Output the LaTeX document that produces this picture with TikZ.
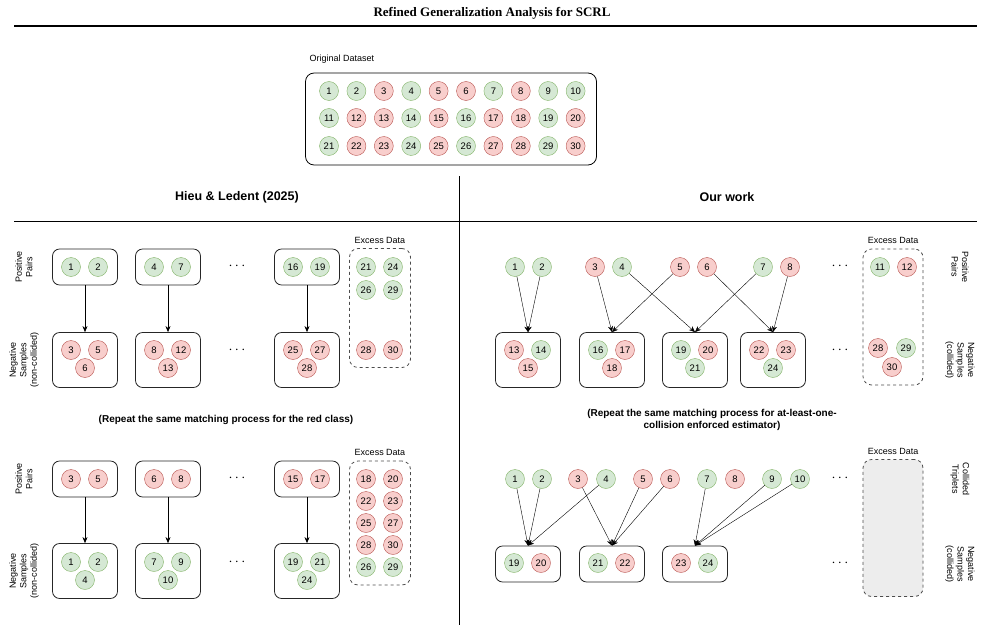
\documentclass[tikz,border=0pt]{standalone}
\usepackage{fontspec}
\setmainfont{Liberation Sans}
\newfontfamily\titlefont{Liberation Serif}
\usetikzlibrary{positioning,arrows.meta}
\definecolor{gfill}{HTML}{D5E8D4}\definecolor{gline}{HTML}{82B366}
\definecolor{rfill}{HTML}{F8CECC}\definecolor{rline}{HTML}{B85450}
\tikzset{
	g/.style={circle,minimum size=19pt,inner sep=0pt,fill=gfill,draw=gline,font=\fontsize{9.5}{10}\selectfont},
	r/.style={g,fill=rfill,draw=rline},
	bx/.style={draw=black!85,rounded corners=2.5mm,minimum width=65pt,thick},
	ex/.style={draw=black!70,dashed,rounded corners=3mm,minimum width=61pt,thick},
	lbl/.style={font=\fontsize{9}{10.5}\selectfont,align=center},
	head/.style={font=\bfseries\fontsize{12.5}{14}\selectfont},
	note/.style={font=\bfseries\fontsize{10}{12}\selectfont,align=center},
	dots/.style={font=\Large},
	arr/.style={-{Stealth[length=6pt,width=5pt]},thin}
}
\begin{document}
\begin{tikzpicture}[x=1pt,y=-1pt]
	\useasboundingbox (0,0) rectangle (985,634);
	% title and rules
	\node[font=\titlefont\bfseries\fontsize{13}{15}\selectfont] (T) at (492,13) {Refined Generalization Analysis for SCRL};
	\draw[line width=1.2pt] (14,26) -- (977,26);
	\draw (14,221) -- (977,221);
	\draw (459,176) -- (459,625);
	\node[head] (H1) at (237,197) {Hieu \& Ledent (2025)};
	\node[head] (H2) at (727,197) {Our work};
	% original dataset
	\node[lbl,anchor=west] (DL) at (306,59) {Original Dataset};
	\node[draw,thick,rounded corners=3mm,minimum width=291pt,minimum height=92pt] (D) at (451,119) {};
	\foreach \row/\y/\cols in {0/91/{g,g,r,g,r,r,g,r,g,g},1/118/{g,r,r,g,r,g,r,r,g,r},2/146/{g,r,r,g,r,g,r,r,g,r}}
		\foreach \c [count=\i] in \cols
			\node[\c] (d\i-\row) at ({329+27.4*(\i-1)},\y) {\the\numexpr\i+10*\row\relax};
	% left, green class
	\foreach \cx [count=\k] in {85,168,307}{
		\node[bx,minimum height=36pt] (LP\k) at (\cx,267) {};
		\node[bx,minimum height=55pt] (LN\k) at (\cx,360) {};
		\draw[arr] (LP\k) -- (LN\k);
	}
	\foreach \nm/\t/\c/\x/\y in {
		a1/1/g/71/267,a2/2/g/98/267,a3/4/g/154/267,a4/7/g/181/267,a5/16/g/293/267,a6/19/g/320/267,
		b1/3/r/71/350,b2/5/r/98/350,b3/6/r/85/368,b4/8/r/154/350,b5/12/r/181/350,b6/13/r/168/368,
		b7/25/r/293/350,b8/27/r/320/350,b9/28/r/307/368}
		\node[\c] (\nm) at (\x,\y) {\t};
	\node[ex,minimum height=119pt] (LE1) at (380,308) {};
	\node[lbl,above=1pt of LE1.north] {Excess Data};
	\foreach \nm/\t/\c/\x/\y in {e1/21/g/366/267,e2/24/g/393/267,e3/26/g/366/290,e4/29/g/393/290,e5/28/r/366/350,e6/30/r/393/350}
		\node[\c] (\nm) at (\x,\y) {\t};
	\node[dots] (LD1) at (237,266) {$\cdots$};
	\node[dots] (LD2) at (237,350) {$\cdots$};
	\node[lbl,rotate=90] (LL1) at (24,267) {Positive\\Pairs};
	\node[lbl,rotate=90] (LL2) at (24,360) {Negative\\Samples\\(non-collided)};
	\node[note] (N1) at (226,420) {(Repeat the same matching process for the red class)};
	% left, red class
	\foreach \cx [count=\k] in {85,168,307}{
		\node[bx,minimum height=36pt] (MP\k) at (\cx,479) {};
		\node[bx,minimum height=55pt] (MN\k) at (\cx,571) {};
		\draw[arr] (MP\k) -- (MN\k);
	}
	\foreach \nm/\t/\c/\x/\y in {
		c1/3/r/71/479,c2/5/r/98/479,c3/6/r/154/479,c4/8/r/181/479,c5/15/r/293/479,c6/17/r/320/479,
		f1/1/g/71/562,f2/2/g/98/562,f3/4/g/85/580,f4/7/g/154/562,f5/9/g/181/562,f6/10/g/168/580,
		f7/19/g/293/562,f8/21/g/320/562,f9/24/g/307/580}
		\node[\c] (\nm) at (\x,\y) {\t};
	\node[ex,minimum height=124pt] (LE2) at (380,523) {};
	\node[lbl,above=1pt of LE2.north] {Excess Data};
	\foreach \nm/\t/\c/\x/\y in {h1/18/r/366/479,h2/20/r/393/479,h3/22/r/366/501,h4/23/r/393/501,h5/25/r/366/523,
		h6/27/r/393/523,h7/28/r/366/545,h8/30/r/393/545,h9/26/g/366/567,h10/29/g/393/567}
		\node[\c] (\nm) at (\x,\y) {\t};
	\node[dots] (LD3) at (237,478) {$\cdots$};
	\node[dots] (LD4) at (237,562) {$\cdots$};
	\node[lbl,rotate=90] (LL3) at (24,479) {Positive\\Pairs};
	\node[lbl,rotate=90] (LL4) at (24,571) {Negative\\Samples\\(non-collided)};
	% right, top
	\foreach \cx [count=\k] in {528,612,695,773}
		\node[bx,minimum height=55pt] (RN\k) at (\cx,360) {};
	\foreach \nm/\t/\c/\x/\y in {
		p1/1/g/515/267,p2/2/g/542/267,p3/3/r/595/267,p4/4/g/622/267,p5/5/r/680/267,p6/6/r/707/267,p7/7/g/763/267,p8/8/r/790/267,
		q1/13/r/514/350,q2/14/g/541/350,q3/15/r/528/368,q4/16/g/598/350,q5/17/r/625/350,q6/18/r/612/368,
		q7/19/g/681/350,q8/20/r/708/350,q9/21/g/695/368,q10/22/r/759/350,q11/23/r/786/350,q12/24/g/773/368}
		\node[\c] (\nm) at (\x,\y) {\t};
	\foreach \a/\b in {p1/RN1,p2/RN1,p3/RN2,p5/RN2,p4/RN3,p7/RN3,p6/RN4,p8/RN4}
		\draw[arr] (\a) -- (\b.north);
	\node[ex,minimum height=136pt,minimum width=60pt] (RE1) at (893,317) {};
	\node[lbl,above=1pt of RE1.north] {Excess Data};
	\foreach \nm/\t/\c/\x/\y in {k1/11/g/880/267,k2/12/r/907/267,k3/28/r/878/348,k4/29/g/906/348,k5/30/r/892/367}
		\node[\c] (\nm) at (\x,\y) {\t};
	\node[dots] (RD1) at (840,266) {$\cdots$};
	\node[dots] (RD2) at (840,350) {$\cdots$};
	\node[lbl,rotate=-90] (RL1) at (960,267) {Positive\\Pairs};
	\node[lbl,rotate=-90] (RL2) at (960,360) {Negative\\Samples\\(collided)};
	\node[note] (N2) at (712,420) {(Repeat the same matching process for at-least-one-\\collision enforced estimator)};
	% right, bottom
	\foreach \cx [count=\k] in {528,612,695}
		\node[bx,minimum height=36pt] (SN\k) at (\cx,564) {};
	\foreach \nm/\t/\c/\x/\y in {
		s1/1/g/515/479,s2/2/g/542/479,s3/3/r/578/479,s4/4/g/606/479,s5/5/r/643/479,s6/6/r/670/479,s7/7/g/707/479,
		s8/8/r/735/479,s9/9/g/772/479,s10/10/g/800/479,
		t1/19/g/514/563,t2/20/r/541/563,t3/21/g/598/563,t4/22/r/625/563,t5/23/r/681/563,t6/24/g/708/563}
		\node[\c] (\nm) at (\x,\y) {\t};
	\foreach \a/\b in {s1/SN1,s2/SN1,s4/SN1,s3/SN2,s5/SN2,s6/SN2,s7/SN3,s9/SN3,s10/SN3}
		\draw[arr] (\a) -- (\b.north);
	\node[ex,fill=black!7,minimum height=137pt,minimum width=60pt] (RE2) at (893,528) {};
	\node[lbl,above=1pt of RE2.north] {Excess Data};
	\node[dots] (RD3) at (840,478) {$\cdots$};
	\node[dots] (RD4) at (840,563) {$\cdots$};
	\node[lbl,rotate=-90] (RL3) at (960,479) {Collided\\Triplets};
	\node[lbl,rotate=-90] (RL4) at (960,564) {Negative\\Samples\\(collided)};
\end{tikzpicture}
\end{document}
